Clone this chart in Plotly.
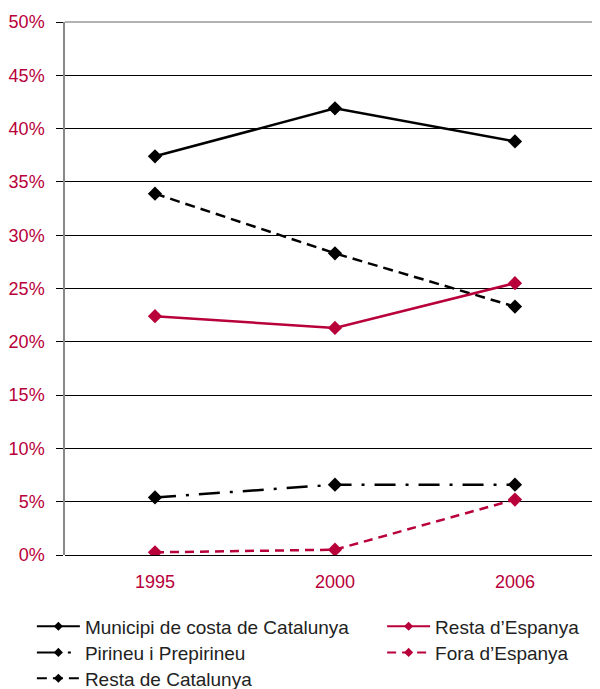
import plotly.graph_objects as go

years = ["1995", "2000", "2006"]
municipi_costa = [37.4, 41.9, 38.8]
pirineu = [5.4, 6.6, 6.6]
resta_catalunya = [33.9, 28.3, 23.3]
resta_espanya = [22.4, 21.3, 25.5]
fora_espanya = [0.25, 0.5, 5.2]
y_ticks = [0, 5, 10, 15, 20, 25, 30, 35, 40, 45, 50]
y_tick_labels = [f"{v}%" for v in y_ticks]

BLACK = "#000000"
RED = "#B8003A"
FONT = "Liberation Sans"

fig = go.Figure()

def add(name, y, color, dash, legend):
    fig.add_trace(go.Scatter(
        x=years, y=y, name=name, mode="lines+markers",
        line=dict(color=color, width=2.5, dash=dash),
        marker=dict(symbol="diamond", size=11, color=color),
        showlegend=False,
    ))
    # legend-only entry with a smaller marker, like the original key
    fig.add_trace(go.Scatter(
        x=[None], y=[None], name=name, mode="lines+markers",
        line=dict(color=color, width=2, dash=dash),
        marker=dict(symbol="diamond", size=7, color=color),
        legend=legend, showlegend=True,
    ))

add("Municipi de costa de Catalunya", municipi_costa, BLACK, "solid", "legend")
add("Pirineu i Prepirineu", pirineu, BLACK, "21px,10px,3px,10px", "legend2")
add("Resta de Catalunya", resta_catalunya, BLACK, "10px,6px", "legend3")
add("Resta d\u2019Espanya", resta_espanya, RED, "solid", "legend4")
add("Fora d\u2019Espanya", fora_espanya, RED, "9px,6px", "legend5")

def leg(x, y):
    return dict(x=x, y=y, orientation="v", xanchor="left", yanchor="middle",
                font=dict(size=19, color="#222222", family=FONT),
                bgcolor="rgba(0,0,0,0)", tracegroupgap=0, itemwidth=43)

col1, col2 = -0.061, 0.584
row1, row2, row3 = -0.134, -0.183, -0.2315

fig.update_layout(
    width=600, height=689,
    margin=dict(l=57, r=0, t=14, b=142, autoexpand=False),
    paper_bgcolor="white", plot_bgcolor="white",
    font=dict(family=FONT, size=18, color="#222222"),
    showlegend=True,
    legend=leg(col1, row1),
    legend2=leg(col1, row2),
    legend3=leg(col1, row3),
    legend4=leg(col2, row1),
    legend5=leg(col2, row2),
    shapes=[dict(type="line", xref="paper", yref="paper", x0=0, x1=1, y0=1, y1=1,
                 line=dict(color="#999999", width=1.5), layer="above")],
)

fig.update_xaxes(
    type="category", range=[-0.5, 2.517],
    showgrid=False, zeroline=False, showline=False,
    ticks="", ticklabelstandoff=14,
    tickfont=dict(color=RED, size=18, family=FONT),
)
fig.update_yaxes(
    range=[0, 50], tickvals=y_ticks, ticktext=y_tick_labels,
    showgrid=True, gridcolor=BLACK, gridwidth=1,
    zeroline=True, zerolinecolor=BLACK, zerolinewidth=1,
    showline=True, linecolor="#888888", linewidth=1.5,
    ticks="outside", ticklen=7, tickcolor=BLACK, tickwidth=1,
    ticklabelstandoff=8,
    tickfont=dict(color=RED, size=18, family=FONT),
)

fig.write_html("out.html")
